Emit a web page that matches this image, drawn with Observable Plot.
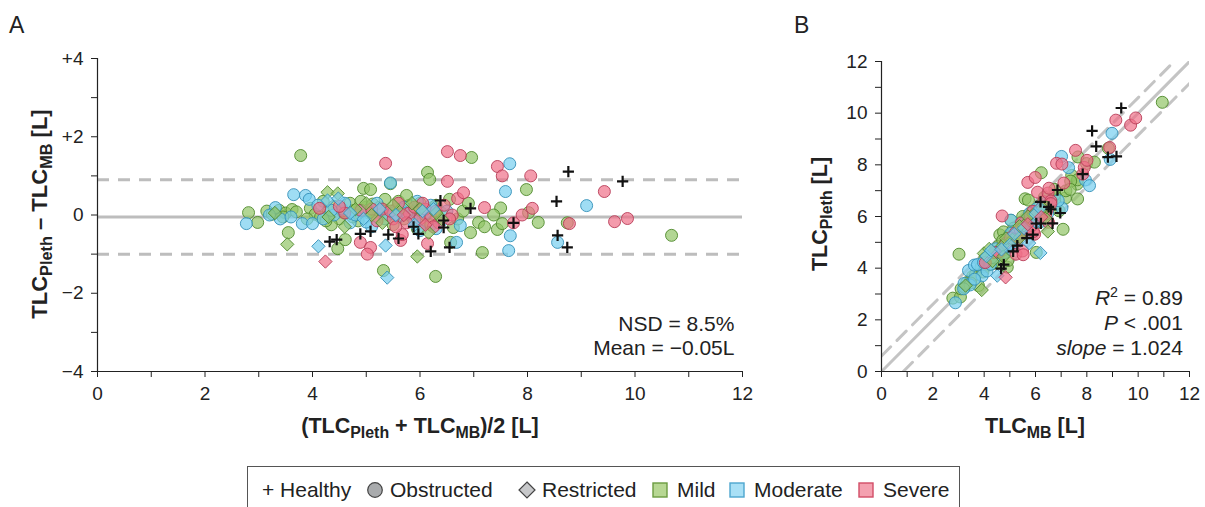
<!DOCTYPE html>
<html><head><meta charset="utf-8">
<script src="https://cdn.jsdelivr.net/npm/d3@7"></script>
<script src="https://cdn.jsdelivr.net/npm/@observablehq/plot@0.6"></script>
<style>
body{margin:0;background:#fff;font-family:"Liberation Sans",Arial,sans-serif;}
#wrap{position:relative;width:1205px;height:507px;overflow:hidden;background:#fff;}
#pa{position:absolute;left:0;top:0;}
#pb{position:absolute;left:790px;top:0;}
.plab{position:absolute;font-size:23px;color:#222;}
#legend{position:absolute;left:247px;top:466px;width:713px;height:60px;border:1.5px solid #555;box-sizing:border-box;}
.li{position:absolute;top:10px;font-size:21px;color:#222;display:flex;align-items:center;white-space:nowrap;height:26px;}
</style></head>
<body><div id="wrap">
<div id="pa"></div><div id="pb"></div>
<div class="plab" style="left:9px;top:12px;">A</div>
<div class="plab" style="left:794px;top:12px;">B</div>
<div id="legend"></div>
</div>
<script>
// ---- data: [mean of the two methods, difference Pleth - MB] in litres ----
const healthy = [[4.32,-0.68],[4.45,-0.63],[4.89,-0.48],[5.08,-0.42],[5.41,-0.5],[5.6,-0.6],[5.88,-0.3],[5.97,-0.48],[6.2,-0.93],[6.38,0.37],[6.44,-0.14],[6.44,-0.32],[6.55,-0.83],[6.94,0.17],[7.74,-0.2],[8.54,0.35],[8.76,1.11],[8.56,-0.52],[8.74,-0.83],[9.77,0.86]];
const obstructedMild = [[2.81,0.06],[2.98,-0.19],[3.15,0.1],[3.25,0.02],[3.38,0.12],[3.5,0.05],[3.62,0.14],[3.7,0.08],[3.78,1.52],[3.55,-0.45],[3.96,0.17],[4.05,0.02],[4.15,-0.05],[4.3,0.1],[4.4,0.22],[4.5,-0.1],[4.47,-0.86],[4.61,-0.63],[4.62,0.05],[4.7,0.3],[4.78,0.12],[4.95,0.68],[5.08,0.65],[5.0,0.2],[5.12,0.28],[5.2,-0.05],[5.3,0.1],[5.32,-1.42],[5.45,0.8],[5.55,0.15],[5.6,0.35],[5.7,-0.1],[5.8,0.25],[5.9,0.1],[6.0,0.3],[6.05,-0.2],[6.14,1.09],[6.18,0.91],[6.25,0.2],[6.29,-1.57],[6.57,-0.7],[6.62,-0.32],[6.96,1.47],[6.94,-0.45],[7.09,-0.19],[7.16,-0.96],[7.44,-0.37],[7.5,0.18],[7.53,-0.22],[7.37,0.0],[7.98,0.65],[8.02,0.06],[8.2,-0.19],[8.74,-0.2],[10.68,-0.52],[4.85,-0.15],[5.5,-0.25],[6.4,0.05],[6.7,-0.1],[4.2,0.35],[3.9,-0.1],[5.95,-0.35],[6.8,0.1],[7.2,-0.3],[4.35,-0.25],[5.75,0.5],[6.55,0.4],[6.9,0.3],[4.55,0.1],[4.75,-0.05],[5.05,0.05],[5.25,0.2],[5.4,0.0],[5.65,0.15],[5.85,-0.05],[6.1,0.0],[6.3,0.25],[4.9,0.35],[5.35,0.4],[6.2,-0.25],[4.25,-0.15],[3.45,-0.05]];
const obstructedModerate = [[2.77,-0.22],[3.31,0.19],[3.4,-0.1],[3.2,0.0],[3.65,0.52],[3.87,0.5],[3.94,0.4],[3.81,-0.22],[4.0,-0.22],[3.6,-0.05],[4.2,-0.1],[4.4,0.0],[4.55,0.15],[4.7,-0.2],[4.9,0.1],[5.45,0.82],[5.2,0.3],[5.35,-0.1],[5.5,0.05],[5.7,0.2],[5.9,-0.15],[6.1,0.05],[6.3,-0.35],[6.5,0.1],[6.68,-0.7],[6.75,-0.27],[7.67,1.31],[7.59,0.6],[7.68,-0.53],[7.65,-0.91],[8.56,-0.7],[9.1,0.24],[6.0,-0.4],[5.1,-0.3],[4.6,0.3],[6.2,0.25],[4.35,0.12],[4.8,0.0],[5.0,-0.18],[5.6,-0.05],[5.75,0.05],[6.4,-0.15],[5.95,0.35],[4.1,0.25]];
const obstructedSevere = [[4.13,0.17],[4.6,0.05],[4.9,0.12],[4.89,-0.7],[5.08,-0.83],[5.02,-1.0],[5.36,1.32],[5.3,0.15],[5.5,-0.1],[5.64,-0.65],[5.67,-0.5],[5.8,0.05],[5.9,0.2],[6.0,-0.1],[6.14,-0.73],[6.1,0.15],[6.2,-0.05],[6.3,0.1],[6.45,0.25],[6.51,1.62],[6.75,1.52],[6.51,0.86],[6.7,0.42],[6.81,0.57],[6.6,0.0],[7.2,0.19],[7.44,1.24],[7.53,1.0],[7.74,-0.2],[7.9,0.0],[8.06,1.0],[8.09,0.17],[8.78,-0.22],[9.43,0.6],[9.62,-0.17],[9.86,-0.09],[5.2,-0.15],[4.5,0.22],[5.6,0.3],[6.35,-0.2],[5.1,0.15],[5.45,0.1],[5.75,-0.2],[6.05,0.3],[6.25,-0.3],[6.55,-0.1],[5.55,-0.3]];
const restrictedMild = [[4.28,0.58],[4.47,0.55],[3.53,-0.75],[5.95,-1.06],[6.16,-0.45],[4.3,-0.05],[4.8,0.15],[5.1,0.0],[5.6,0.1],[6.0,0.15],[6.4,-0.1],[5.3,-0.2],[4.6,-0.3],[3.3,0.05],[5.85,0.3],[5.0,0.3],[5.5,0.25],[6.3,0.05]];
const restrictedModerate = [[4.11,-0.8],[4.28,0.37],[4.48,0.42],[5.36,-0.78],[5.39,-1.6],[4.7,0.05],[5.25,0.15],[5.9,-0.25],[6.05,0.1],[4.95,-0.1],[5.55,0.0],[6.25,0.15]];
const restrictedSevere = [[4.24,-1.19],[5.7,0.0],[6.1,-0.25]];
const meanDiff = -0.05;
const limitsOfAgreement = [0.9, -1.0];
const identityLine = [[0,0],[12,12]];
const upperBand = [[0,0.6],[12,12.6]];
const lowerBand = [[0.85,0],[12,11.15]];
const xTicks = [0,1,2,3,4,5,6,7,8,9,10,11,12];
const yTicksA = [-4,-3,-2,-1,0,1,2,3,4];

const palette = {
  Mild:{fill:"#92c466", stroke:"#4f8a2b", lfill:"#b7d793", lstroke:"#6b9c41"},
  Moderate:{fill:"#76cef0", stroke:"#3490b8", lfill:"#a9e0f6", lstroke:"#4ea6cf"},
  Severe:{fill:"#ef7189", stroke:"#b83d58", lfill:"#f4a1b0", lstroke:"#d24d67"}
};
const groups = [
  {data:obstructedMild, sev:"Mild", symbol:"circle"},
  {data:obstructedModerate, sev:"Moderate", symbol:"circle"},
  {data:obstructedSevere, sev:"Severe", symbol:"circle"},
  {data:restrictedMild, sev:"Mild", symbol:"diamond2"},
  {data:restrictedModerate, sev:"Moderate", symbol:"diamond2"},
  {data:restrictedSevere, sev:"Severe", symbol:"diamond2"}
];
const toRow = ([m,d]) => ({mean:m, diff:d, mb:m-d/2, pleth:m+d/2});

const FONT = "'Liberation Sans', Arial, sans-serif";
const style = {fontFamily:FONT, fontSize:"19px", color:"#222", background:"transparent", overflow:"visible"};
const evenFmt = d => d % 2 === 0 ? String(d) : "";
const signFmt = d => d % 2 !== 0 ? "" : d > 0 ? "+" + d : d < 0 ? "\u2212" + Math.abs(d) : "0";

function dotMarks(xk, yk){
  const marks = [];
  for (const g of groups){
    const c = palette[g.sev];
    marks.push(Plot.dot(g.data.map(toRow), {x:xk, y:yk, symbol:g.symbol, r:6,
      fill:c.fill, fillOpacity:0.7, stroke:c.stroke, strokeWidth:1, strokeOpacity:0.9}));
  }
  marks.push(Plot.dot(healthy.map(toRow), {x:xk, y:yk, symbol:"plus", r:3.7, stroke:"#111", strokeWidth:2.2}));
  return marks;
}

// ---------- Panel A ----------
const chartA = Plot.plot({
  width:770, height:441, marginLeft:97, marginRight:28, marginTop:58, marginBottom:70,
  style,
  x:{domain:[0,12]},
  y:{domain:[-4,4]},
  marks:[
    Plot.ruleY([meanDiff], {stroke:"#bdbdbd", strokeWidth:3}),
    Plot.ruleY(limitsOfAgreement, {stroke:"#bdbdbd", strokeWidth:3, strokeDasharray:"12,9"}),
    ...dotMarks("mean","diff"),
    Plot.ruleX([0], {stroke:"#222", strokeWidth:1.2}),
    Plot.ruleY([-4], {stroke:"#222", strokeWidth:1.2}),
    Plot.axisX({ticks:xTicks, tickFormat:evenFmt, tickSize:6, tickPadding:9, label:null}),
    Plot.axisY({ticks:yTicksA, tickFormat:signFmt, tickSize:6, tickPadding:8, label:null})
  ]
});
document.getElementById("pa").appendChild(chartA);

// ---------- Panel B ----------
const chartB = Plot.plot({
  width:415, height:441, marginLeft:91, marginRight:16, marginTop:61, marginBottom:70,
  style,
  x:{domain:[0,12]},
  y:{domain:[0,12]},
  marks:[
    Plot.line(identityLine, {x:d=>d[0], y:d=>d[1], stroke:"#c4c4c4", strokeWidth:3, clip:true}),
    Plot.line(upperBand, {x:d=>d[0], y:d=>d[1], stroke:"#c4c4c4", strokeWidth:3, strokeDasharray:"13,9", clip:true}),
    Plot.line(lowerBand, {x:d=>d[0], y:d=>d[1], stroke:"#c4c4c4", strokeWidth:3, strokeDasharray:"13,9", clip:true}),
    ...dotMarks("mb","pleth"),
    Plot.ruleX([0], {stroke:"#222", strokeWidth:1.2}),
    Plot.ruleY([0], {stroke:"#222", strokeWidth:1.2}),
    Plot.axisX({ticks:xTicks, tickFormat:evenFmt, tickSize:6, tickPadding:9, label:null}),
    Plot.axisY({ticks:xTicks, tickFormat:evenFmt, tickSize:6, tickPadding:8, label:null})
  ]
});
document.getElementById("pb").appendChild(chartB);

// ---------- rich text helper (subscripts / superscripts / italics) ----------
function richText(svg, parts, attrs){
  const t = d3.select(svg).append("text").attr("font-family", FONT).attr("fill", "#222");
  for (const [k,v] of Object.entries(attrs)) t.attr(k, v);
  let shift = 0;
  for (const [txt, kind] of parts){
    const s = t.append("tspan").text(txt);
    let target = 0;
    if (kind === "sub"){ target = 5; s.attr("font-size","0.74em"); }
    else if (kind === "sup"){ target = -8; s.attr("font-size","0.68em"); }
    else if (kind === "i"){ s.attr("font-style","italic"); }
    if (target !== shift){ s.attr("dy", target - shift); shift = target; }
  }
  return t;
}

// Panel A labels
richText(chartA, [["TLC"],["Pleth","sub"],[" \u2013 TLC"],["MB","sub"],[" [L]"]],
  {"font-size":22, "font-weight":"bold", "text-anchor":"middle", transform:"translate(47,214) rotate(-90)"});
richText(chartA, [["(TLC"],["Pleth","sub"],[" + TLC"],["MB","sub"],[")/2 [L]"]],
  {"font-size":21.5, "font-weight":"bold", "text-anchor":"middle", x:420, y:433});
const xa = chartA.scale("x"), ya = chartA.scale("y");
richText(chartA, [["NSD = 8.5%"]], {"font-size":21, "text-anchor":"end", x:xa.apply(11.86), y:ya.apply(-2.98)});
richText(chartA, [["Mean = \u22120.05L"]], {"font-size":21, "text-anchor":"end", x:xa.apply(11.86), y:ya.apply(-3.59)});

// Panel B labels
richText(chartB, [["TLC"],["Pleth","sub"],[" [L]"]],
  {"font-size":21.5, "font-weight":"bold", "text-anchor":"middle", transform:"translate(37,214) rotate(-90)"});
richText(chartB, [["TLC"],["MB","sub"],[" [L]"]],
  {"font-size":21.5, "font-weight":"bold", "text-anchor":"middle", x:245, y:433});
const xb = chartB.scale("x"), yb = chartB.scale("y");
richText(chartB, [["R","i"],["2","sup"],[" = 0.89"]], {"font-size":21, "text-anchor":"end", x:xb.apply(11.76), y:yb.apply(2.555)});
richText(chartB, [["P","i"],[" < .001"]], {"font-size":21, "text-anchor":"end", x:xb.apply(11.76), y:yb.apply(1.587)});
richText(chartB, [["slope","i"],[" = 1.024"]], {"font-size":21, "text-anchor":"end", x:xb.apply(11.76), y:yb.apply(0.62)});

// ---------- Legend ----------
const legendItems = [
  {label:"+ Healthy", kind:"none", left:14},
  {label:"Obstructed", kind:"circle", left:118},
  {label:"Restricted", kind:"diamond", left:270},
  {label:"Mild", kind:"square", sev:"Mild", left:403},
  {label:"Moderate", kind:"square", sev:"Moderate", left:480},
  {label:"Severe", kind:"square", sev:"Severe", left:609}
];
const leg = d3.select("#legend");
for (const it of legendItems){
  const div = leg.append("div").attr("class","li").style("left", it.left + "px");
  if (it.kind !== "none"){
    const s = div.append("svg").attr("width",18).attr("height",18)
      .style("margin-right", (it.kind === "square" ? 8 : 6) + "px");
    if (it.kind === "circle"){
      s.append("circle").attr("cx",9).attr("cy",9).attr("r",7.3).attr("fill","#a9abad").attr("stroke","#444").attr("stroke-width",1.2);
    } else if (it.kind === "diamond"){
      s.append("path").attr("d","M9,1L17,9L9,17L1,9Z").attr("fill","#c7c8ca").attr("stroke","#444").attr("stroke-width",1.2);
    } else {
      const c = palette[it.sev];
      s.append("rect").attr("x",2).attr("y",2).attr("width",14).attr("height",14).attr("fill",c.lfill).attr("stroke",c.lstroke).attr("stroke-width",1.4);
    }
  }
  div.append("span").text(it.label);
}
</script>
</body></html>
